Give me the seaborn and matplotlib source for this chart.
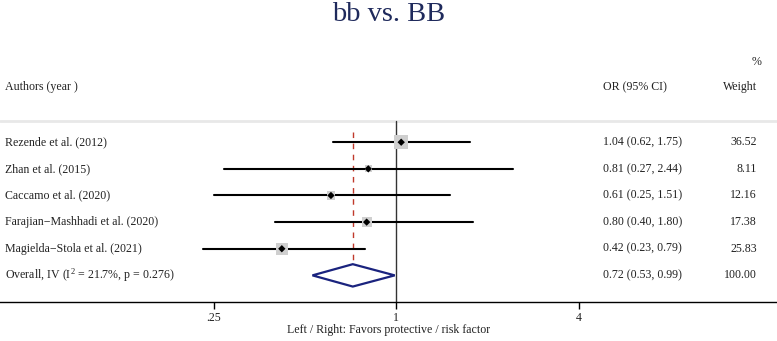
import matplotlib
matplotlib.use("Agg")
import matplotlib.pyplot as plt
import matplotlib.transforms as mtransforms
from matplotlib.patches import Polygon
import numpy as np
import pandas as pd
import seaborn as sns

# ---- data ----
studies = ["Rezende et al. (2012)", "Zhan et al. (2015)", "Caccamo et al. (2020)",
           "Farajian\u2212Mashhadi et al. (2020)", "Magielda\u2212Stola et al. (2021)"]
or_vals = [1.04, 0.81, 0.61, 0.80, 0.42]
ci_low = [0.62, 0.27, 0.25, 0.40, 0.23]
ci_high = [1.75, 2.44, 1.51, 1.80, 0.79]
weights = [36.52, 8.11, 12.16, 17.38, 25.83]
overall_label = "Overall, IV (I$^2$ = 21.7%, p = 0.276)"
overall_or = 0.72
overall_low = 0.53
overall_high = 0.99
overall_weight = 100.00
xticks = [0.25, 1, 4]
xticklabels = [".25", "1", "4"]

sns.set_style("white")
plt.rcParams["font.family"] = ["Liberation Serif", "DejaVu Serif"]
plt.rcParams["mathtext.fontset"] = "custom"
plt.rcParams["mathtext.rm"] = "Liberation Serif"
plt.rcParams["mathtext.it"] = "Liberation Serif:italic"

W, H = 777, 341
fig = plt.figure(figsize=(W / 100, H / 100), dpi=100)
bottom = 39 / H
ax = fig.add_axes([0, bottom, 1, 1 - bottom])

rows = list(range(1, len(studies) + 1))
overall_row = len(studies) + 1
df = pd.DataFrame({"study": studies, "OR": or_vals, "lo": ci_low, "hi": ci_high,
                   "w": weights, "row": rows})

ax.set_xscale("log", base=2)
ax.set_xlim(2 ** -4.340, 2 ** 4.175)
ax.set_ylim(7.0, -4.34)

fs = 8.6
txt_col = "#222222"

# separator and reference lines
ax.axhline(0.2, color="#e8e8e8", lw=2, zorder=1)
ax.plot([1, 1], [0.2, 7.0], color="#333333", lw=1.0, zorder=2)
ax.plot([overall_or, overall_or], [0.62, overall_row + 0.42], color="#c0392b",
        lw=1.0, ls=(0, (4, 4)), zorder=2)

# CI lines
for _, r in df.iterrows():
    ax.plot([r.lo, r.hi], [r.row, r.row], color="black", lw=1.5, zorder=3)

# weight squares
sns.scatterplot(data=df, x="OR", y="row", size="w", sizes=(2.86 * min(weights), 2.86 * max(weights)),
                marker="s", color="#cfcfcf", edgecolor="none", legend=False, ax=ax, zorder=4)
# point estimates
sns.scatterplot(data=df, x="OR", y="row", marker="D", color="black", s=14,
                edgecolor="none", legend=False, ax=ax, zorder=5)

# overall diamond
dh = 0.42
diamond = Polygon([[overall_low, overall_row], [overall_or, overall_row - dh],
                   [overall_high, overall_row], [overall_or, overall_row + dh]],
                  closed=True, facecolor="white", edgecolor="#1a237e", lw=1.6, zorder=6)
ax.add_patch(diamond)

# text columns
trans = mtransforms.blended_transform_factory(fig.transFigure, ax.transData)
x_lab = 5 / W
x_or = 603 / W
x_w = 757 / W
ax.text(x_lab, -1.07, "Authors (year )", transform=trans, fontsize=fs, va="center", ha="left", color=txt_col)
ax.text(x_or, -1.07, "OR (95% CI)", transform=trans, fontsize=fs, va="center", ha="left", color=txt_col)
ax.text(x_w, -1.07, "Weight", transform=trans, fontsize=fs, va="center", ha="right", color=txt_col)
ax.text(762 / W, -2.0, "%", transform=trans, fontsize=fs, va="center", ha="right", color=txt_col)

for s, o, l, h, w, r in zip(studies, or_vals, ci_low, ci_high, weights, rows):
    ax.text(x_lab, r, s, transform=trans, fontsize=fs, va="center", ha="left", color=txt_col)
    ax.text(x_or, r, f"{o:.2f} ({l:.2f}, {h:.2f})", transform=trans, fontsize=fs, va="center", ha="left", color=txt_col)
    ax.text(x_w, r, f"{w:.2f}", transform=trans, fontsize=fs, va="center", ha="right", color=txt_col)

ax.text(x_lab, overall_row, overall_label, transform=trans, fontsize=fs, va="center", ha="left", color=txt_col)
ax.text(x_or, overall_row, f"{overall_or:.2f} ({overall_low:.2f}, {overall_high:.2f})", transform=trans,
        fontsize=fs, va="center", ha="left", color=txt_col)
ax.text(x_w, overall_row, f"{overall_weight:.2f}", transform=trans, fontsize=fs, va="center", ha="right", color=txt_col)

# axes styling
for sp in ["top", "right", "left"]:
    ax.spines[sp].set_visible(False)
ax.spines["bottom"].set_color("black")
ax.spines["bottom"].set_linewidth(1.0)
ax.set_yticks([])
ax.set_ylabel("")
ax.set_xticks(xticks)
ax.set_xticklabels(xticklabels)
ax.minorticks_off()
ax.tick_params(axis="x", direction="out", length=5, width=1, color="black", labelsize=fs, pad=2,
               bottom=True, labelcolor=txt_col)
ax.set_xlabel("Left / Right: Favors protective / risk factor", fontsize=fs, labelpad=0, color=txt_col)

fig.text(0.5, 1 - 21 / H, "bb vs. BB", ha="center", va="baseline", fontsize=20.5, color="#1f2a5c")

fig.savefig("out.png", dpi=100)
